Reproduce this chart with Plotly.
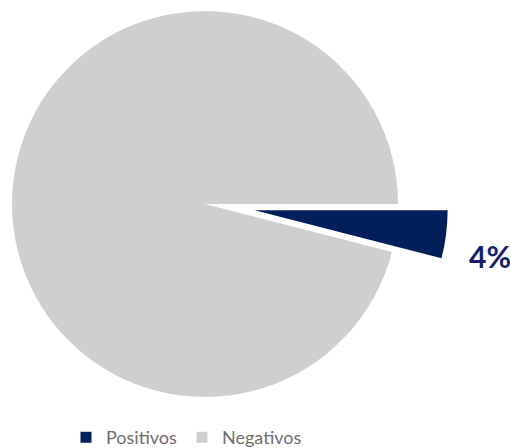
import math
import plotly.graph_objects as go

# Resultados de las pruebas
labels = ["Positivos", "Negativos"]
values = [4, 96]
colors = ["#00205B", "#D0CFD0"]

W, H = 510, 448
total = sum(values)
share = values[0] / total

# Pie geometry in pixels: main disc centre/radius, and the offset of the
# separated "Positivos" wedge (moved along its bisector).
cx, cy, r = 205, 204, 193
pull_px = 50


def domain(cx_px, cy_px, rad):
    return dict(
        x=[(cx_px - rad) / W, (cx_px + rad) / W],
        y=[1 - (cy_px + rad) / H, 1 - (cy_px - rad) / H],
    )


bis = math.radians(-360 * share / 2)  # bisector angle of the small wedge
dx = pull_px * math.cos(bis)
dy = -pull_px * math.sin(bis)

clear = "rgba(0,0,0,0)"
common = dict(
    labels=labels,
    values=values,
    sort=False,
    direction="clockwise",
    rotation=90,
    textinfo="none",
    hoverinfo="label+percent",
    showlegend=False,
    marker_line_width=0,
)

fig = go.Figure()
# main disc (Negativos)
fig.add_trace(go.Pie(**common, marker_colors=[clear, colors[1]],
                     domain=domain(cx, cy, r)))
# separated wedge (Positivos)
fig.add_trace(go.Pie(**common, marker_colors=[colors[0], clear],
                     domain=domain(cx + dx, cy + dy, r)))

# legend entries
for lab, col in zip(labels, colors):
    fig.add_trace(go.Scatter(x=[None], y=[None], mode="markers", name=lab,
                             marker=dict(symbol="square", size=11, color=col)))

fig.add_annotation(
    text=f"<b>{round(100 * share)}%</b>",
    x=490 / W, y=1 - 256 / H, xref="paper", yref="paper",
    showarrow=False, xanchor="center", yanchor="middle",
    font=dict(family="Lato", size=30, color="#14206B"),
)

fig.update_layout(
    width=W, height=H,
    margin=dict(l=0, r=0, t=0, b=0, autoexpand=False),
    paper_bgcolor="white", plot_bgcolor="white",
    xaxis=dict(visible=False), yaxis=dict(visible=False),
    legend=dict(
        orientation="h", x=66 / W, xanchor="left", y=-0.018, yanchor="bottom",
        font=dict(family="Lato", size=18, color="#6E6E6E"),
        bgcolor="rgba(0,0,0,0)",
    ),
)

fig.write_html("out.html")
